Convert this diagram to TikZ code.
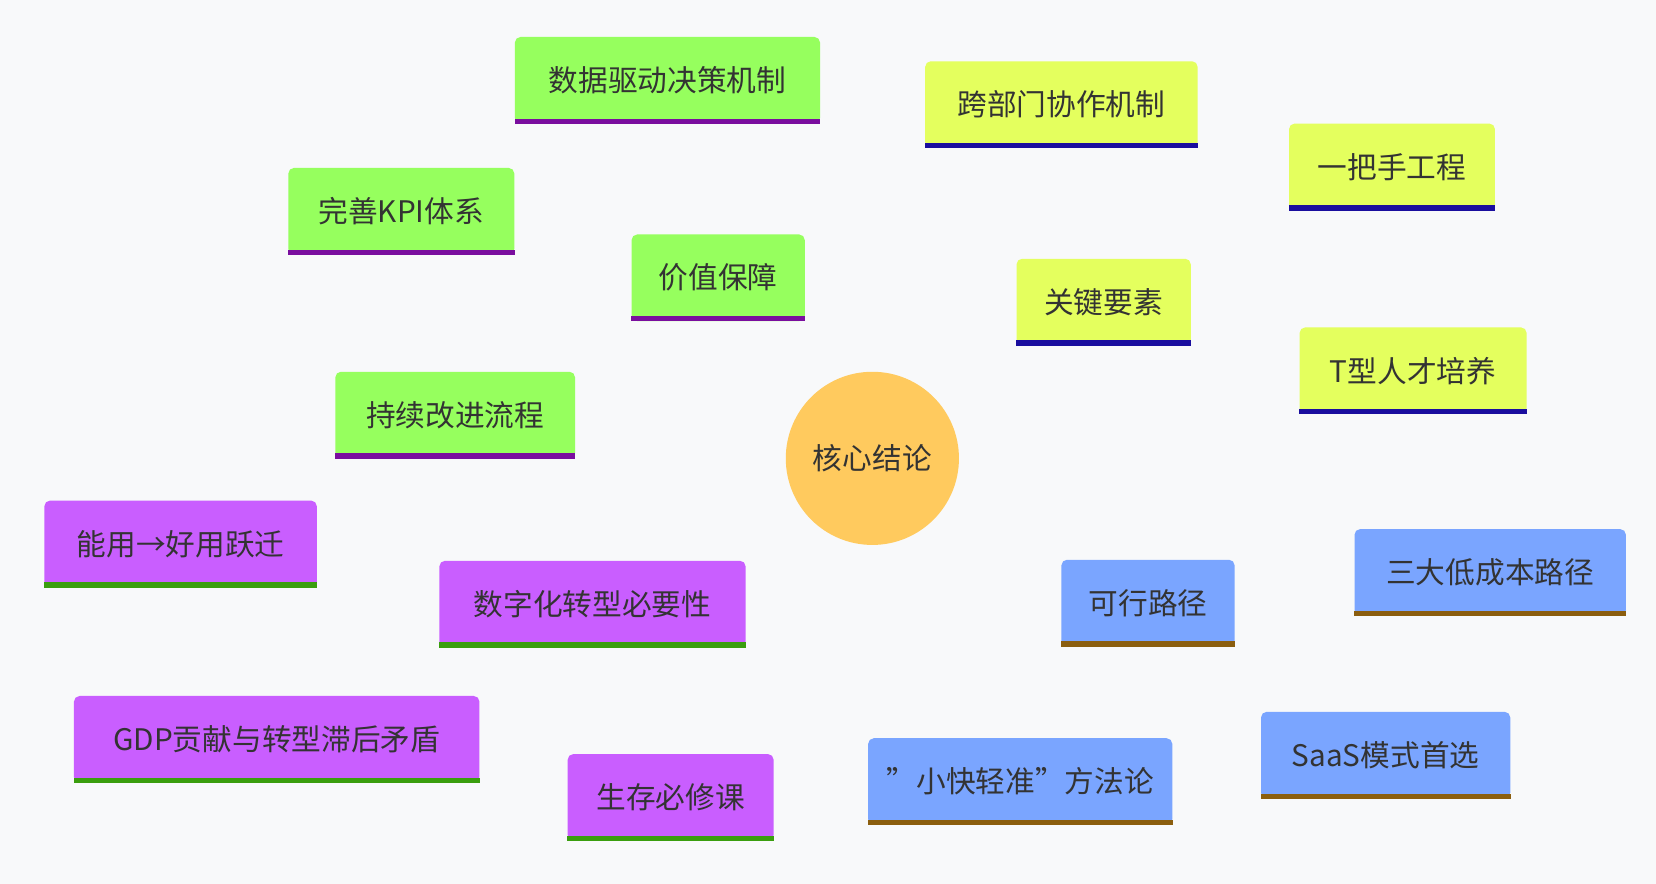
\documentclass[tikz,border=0pt]{standalone}
\usepackage{fontspec}
\setmainfont{Noto Sans CJK SC}
\usetikzlibrary{backgrounds}
\definecolor{bg}{HTML}{F8F9FA}
\definecolor{grn}{HTML}{96FF5E}
\definecolor{grnline}{HTML}{7A0E9E}
\definecolor{yel}{HTML}{E4FF5E}
\definecolor{yelline}{HTML}{1A0E9E}
\definecolor{pur}{HTML}{C95EFF}
\definecolor{purline}{HTML}{3A9E0E}
\definecolor{blu}{HTML}{7AA5FF}
\definecolor{bluline}{HTML}{8B5E0E}
\definecolor{core}{HTML}{FFCA5E}
\definecolor{ink}{HTML}{333333}
\tikzset{
  box/.style={rectangle, rounded corners=3pt, minimum height=1.64cm, inner sep=0pt,
    text=ink, font=\fontsize{16}{18}\selectfont},
  branch/.style={line width=0.32cm},
  twig/.style={line width=0.24cm},
}
\begin{document}
\begin{tikzpicture}[x=0.02cm, y=-0.02cm]
  \fill[bg] (0,0) rectangle (1568,837);
  % centre
  \node[circle, fill=core, minimum size=3.28cm, text=ink, font=\fontsize{16}{18}\selectfont] (core) at (826,434) {核心结论};
  % value branch
  \node[box, fill=grn, minimum width=3.28cm] (value) at (680,263) {价值保障};
  \node[box, fill=grn, minimum width=5.78cm] (data) at (632,76) {数据驱动决策机制};
  \node[box, fill=grn, minimum width=4.28cm] (kpi) at (380,200) {完善KPI体系};
  \node[box, fill=grn, minimum width=4.54cm] (improve) at (431,393) {持续改进流程};
  % key branch
  \node[box, fill=yel, minimum width=3.3cm] (key) at (1045,286) {关键要素};
  \node[box, fill=yel, minimum width=5.16cm] (cross) at (1005,99) {跨部门协作机制};
  \node[box, fill=yel, minimum width=3.9cm] (leader) at (1318,158) {一把手工程};
  \node[box, fill=yel, minimum width=4.3cm] (talent) at (1338,351) {T型人才培养};
  % need branch
  \node[box, fill=pur, minimum width=5.8cm] (need) at (561,572) {数字化转型必要性};
  \node[box, fill=pur, minimum width=5.16cm] (leap) at (171,515) {能用→好用跃迁};
  \node[box, fill=pur, minimum width=7.68cm] (gdp) at (262,700) {GDP贡献与转型滞后矛盾};
  \node[box, fill=pur, minimum width=3.9cm] (survive) at (635,755) {生存必修课};
  % path branch
  \node[box, fill=blu, minimum width=3.28cm] (path) at (1087,571) {可行路径};
  \node[box, fill=blu, minimum width=5.14cm] (lowcost) at (1411,542) {三大低成本路径};
  \node[box, fill=blu, minimum width=4.72cm] (saas) at (1312,715) {SaaS模式首选};
  \node[box, fill=blu, minimum width=5.76cm] (method) at (966,740) {"小快轻准"方法论};
  % underlines
  \foreach \n/\c in {value/grnline, data/grnline, kpi/grnline, improve/grnline,
      key/yelline, cross/yelline, leader/yelline, talent/yelline,
      need/purline, leap/purline, gdp/purline, survive/purline,
      path/bluline, lowcost/bluline, saas/bluline, method/bluline}
    \fill[\c] (\n.south west) rectangle ([yshift=0.1cm]\n.south east);
  % connectors
  \begin{pgfonlayer}{background}
    \draw[branch, grn] (core.center) -- (value.center);
    \draw[branch, yel] (core.center) -- (key.center);
    \draw[branch, pur] (core.center) -- (need.center);
    \draw[branch, blu] (core.center) -- (path.center);
    \foreach \a/\b/\c in {value/data/grn, value/kpi/grn, value/improve/grn,
        key/cross/yel, key/leader/yel, key/talent/yel,
        need/leap/pur, need/gdp/pur, need/survive/pur,
        path/lowcost/blu, path/saas/blu, path/method/blu}
      \draw[twig, \c] (\a.center) -- (\b.center);
  \end{pgfonlayer}
\end{tikzpicture}
\end{document}
